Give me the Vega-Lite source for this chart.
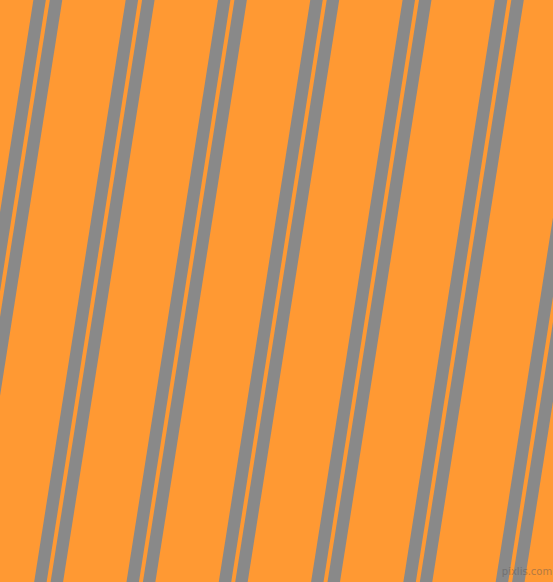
{
  "$schema": "https://vega.github.io/schema/vega-lite/v6.json",
  "width": 553,
  "height": 582,
  "autosize": {"type": "fit", "contains": "padding"},
  "padding": 0,
  "background": "#ff9933",
  "config": {"view": {"stroke": null}},
  "layer": [
    {
      "data": {
        "values": [
          {"x": 42.74, "y": -20, "x2": -55.04, "y2": 602},
          {"x": 59.19, "y": -20, "x2": -38.59, "y2": 602},
          {"x": 135.04, "y": -20, "x2": 37.26, "y2": 602},
          {"x": 151.49, "y": -20, "x2": 53.71, "y2": 602},
          {"x": 227.34, "y": -20, "x2": 129.56, "y2": 602},
          {"x": 243.79, "y": -20, "x2": 146.01, "y2": 602},
          {"x": 319.64, "y": -20, "x2": 221.86, "y2": 602},
          {"x": 336.09, "y": -20, "x2": 238.31, "y2": 602},
          {"x": 411.94, "y": -20, "x2": 314.16, "y2": 602},
          {"x": 428.39, "y": -20, "x2": 330.61, "y2": 602},
          {"x": 504.24, "y": -20, "x2": 406.46, "y2": 602},
          {"x": 520.69, "y": -20, "x2": 422.91, "y2": 602},
          {"x": 596.54, "y": -20, "x2": 498.76, "y2": 602},
          {"x": 612.99, "y": -20, "x2": 515.21, "y2": 602}
        ]
      },
      "mark": {"type": "rule", "clip": true, "color": "#898989", "strokeWidth": 12.3, "strokeCap": "butt"},
      "encoding": {
        "x": {"field": "x", "type": "quantitative", "scale": {"domain": [0, 553], "nice": false, "zero": false}, "axis": null},
        "y": {"field": "y", "type": "quantitative", "scale": {"domain": [0, 582], "nice": false, "zero": false, "reverse": true}, "axis": null},
        "x2": {"field": "x2"},
        "y2": {"field": "y2"}
      }
    },
    {
      "data": {"values": [{"x": 527, "y": 572, "label": "pixlis.com"}]},
      "mark": {"type": "text", "fontSize": 10, "font": "DejaVu Sans", "color": "#555555", "opacity": 0.45, "align": "center", "baseline": "middle"},
      "encoding": {
        "x": {"field": "x", "type": "quantitative"},
        "y": {"field": "y", "type": "quantitative"},
        "text": {"field": "label"}
      }
    }
  ]
}
